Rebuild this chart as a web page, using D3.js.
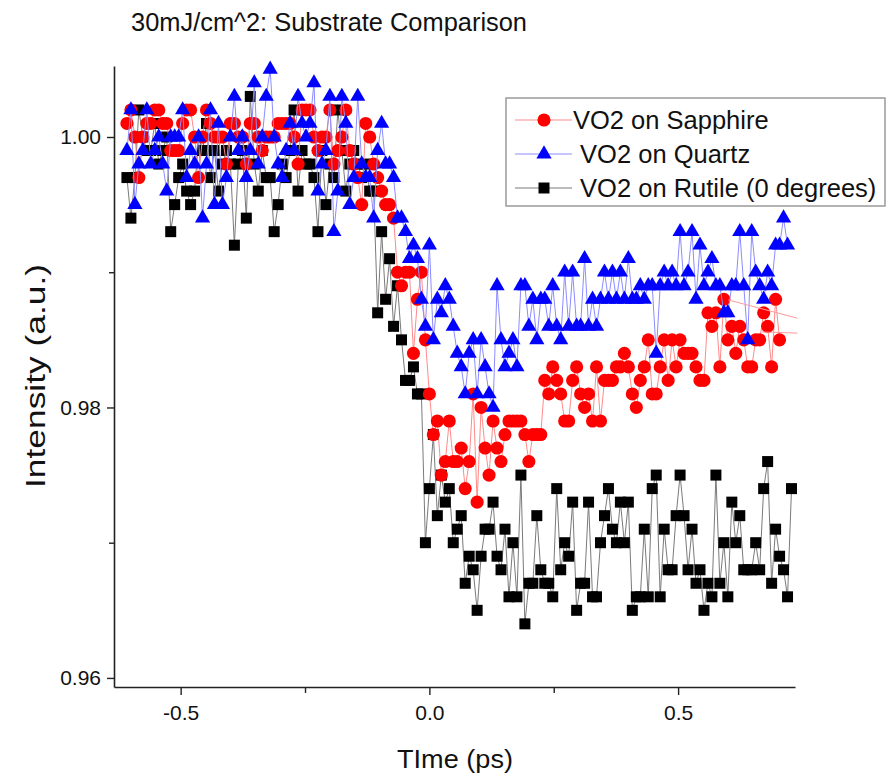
<!DOCTYPE html>
<html>
<head>
<meta charset="utf-8">
<script src="https://cdn.jsdelivr.net/npm/d3@7"></script>
<style>
  body { margin: 0; background: #fff; }
  text { font-family: "Liberation Sans", Arial, sans-serif; fill: #111; }
</style>
</head>
<body>
<svg id="chart" width="892" height="777"></svg>
<script>
// Pump-probe delay (ps), shared by all three scans
const delay = [
  -0.608,-0.600,-0.592,-0.584,-0.576,-0.568,-0.560,-0.552,-0.544,-0.536,
  -0.528,-0.520,-0.512,-0.504,-0.496,-0.488,-0.480,-0.472,-0.464,-0.456,
  -0.448,-0.440,-0.432,-0.424,-0.416,-0.408,-0.400,-0.392,-0.384,-0.376,
  -0.368,-0.360,-0.352,-0.344,-0.336,-0.328,-0.320,-0.312,-0.304,-0.296,
  -0.288,-0.280,-0.272,-0.264,-0.256,-0.248,-0.240,-0.232,-0.224,-0.216,
  -0.208,-0.200,-0.192,-0.184,-0.176,-0.168,-0.160,-0.152,-0.144,-0.136,
  -0.128,-0.120,-0.112,-0.104,-0.096,-0.088,-0.080,-0.072,-0.064,-0.056,
  -0.048,-0.040,-0.032,-0.024,-0.016,-0.008, 0.000, 0.008, 0.016, 0.024,
   0.032, 0.040, 0.048, 0.056, 0.064, 0.072, 0.080, 0.088, 0.096, 0.104,
   0.112, 0.120, 0.128, 0.136, 0.144, 0.152, 0.160, 0.168, 0.176, 0.184,
   0.192, 0.200, 0.208, 0.216, 0.224, 0.232, 0.240, 0.248, 0.256, 0.264,
   0.272, 0.280, 0.288, 0.296, 0.304, 0.312, 0.320, 0.328, 0.336, 0.344,
   0.352, 0.360, 0.368, 0.376, 0.384, 0.392, 0.400, 0.408, 0.416, 0.424,
   0.432, 0.440, 0.448, 0.456, 0.464, 0.472, 0.480, 0.488, 0.496, 0.504,
   0.512, 0.520, 0.528, 0.536, 0.544, 0.552, 0.560, 0.568, 0.576, 0.584,
   0.592, 0.600, 0.608, 0.616, 0.624, 0.632, 0.640, 0.648, 0.656, 0.664,
   0.672, 0.680, 0.688, 0.696, 0.704, 0.712, 0.720, 0.728
];

// Normalised reflected intensity (a.u.)
const sapphire = [
  1.001,1.002,1.000,0.997,1.000,1.001,1.001,1.002,1.002,1.001,
  1.001,0.999,0.999,0.999,1.001,1.002,1.002,1.000,0.997,1.000,
  1.002,1.001,1.000,1.000,1.000,0.998,1.001,1.001,1.000,1.000,
  0.998,1.001,1.001,1.000,0.999,1.000,1.000,1.000,1.001,1.001,
  1.001,1.001,1.000,0.998,1.002,1.002,1.002,1.000,0.999,1.000,
  1.000,1.002,0.998,0.999,1.000,1.002,0.999,0.998,0.997,0.995,
  1.001,1.000,0.998,0.997,0.996,0.995,0.995,0.994,0.990,0.989,
  0.990,0.990,0.984,0.988,0.990,0.985,0.981,0.978,0.979,0.975,
  0.976,0.979,0.976,0.976,0.977,0.974,0.976,0.981,0.973,0.980,
  0.977,0.975,0.979,0.977,0.976,0.978,0.979,0.979,0.979,0.979,
  0.978,0.976,0.978,0.978,0.978,0.982,0.981,0.983,0.982,0.981,
  0.979,0.979,0.982,0.983,0.981,0.980,0.981,0.979,0.983,0.979,
  0.982,0.982,0.982,0.983,0.983,0.984,0.983,0.981,0.980,0.982,
  0.983,0.985,0.981,0.981,0.983,0.985,0.982,0.985,0.983,0.985,
  0.984,0.984,0.984,0.983,0.982,0.982,0.987,0.986,0.987,0.983,
  0.988,0.985,0.986,0.984,0.986,0.985,0.983,0.983,0.985,0.985,
  0.987,0.986,0.983,0.988,0.985
];

const quartz = [
  0.999,1.002,0.995,0.998,0.999,1.002,0.998,0.999,1.000,0.998,
  0.996,1.000,1.000,1.000,1.002,0.997,0.999,0.998,1.000,0.994,
  0.998,1.002,0.995,1.001,0.995,0.997,1.000,1.003,0.999,1.000,
  0.997,0.999,1.004,0.998,1.000,1.003,1.005,1.000,0.998,0.997,
  0.999,1.001,0.999,1.003,1.001,1.000,1.001,1.004,0.996,0.998,
  0.999,1.003,0.993,0.996,1.003,1.001,0.995,0.997,1.003,0.998,
  0.997,0.997,0.994,0.999,1.001,0.998,0.998,0.997,0.994,0.994,
  0.993,0.991,0.992,0.991,0.988,0.986,0.992,0.985,0.988,0.987,
  0.989,0.988,0.986,0.984,0.983,0.981,0.984,0.985,0.981,0.985,
  0.983,0.981,0.980,0.989,0.985,0.983,0.984,0.985,0.983,0.989,
  0.989,0.986,0.988,0.985,0.988,0.988,0.986,0.989,0.986,0.985,
  0.990,0.986,0.990,0.986,0.986,0.991,0.986,0.988,0.986,0.988,
  0.990,0.988,0.990,0.988,0.990,0.988,0.991,0.988,0.988,0.989,
  0.988,0.989,0.989,0.984,0.989,0.990,0.989,0.990,0.989,0.993,
  0.989,0.990,0.993,0.988,0.992,0.989,0.990,0.991,0.989,0.989,
  0.987,0.987,0.989,0.989,0.993,0.989,0.985,0.993,0.990,0.989,
  0.988,0.990,0.989,0.992,0.992,0.994,0.992
];

const rutile = [
  0.997,0.994,0.997,1.002,1.000,0.999,0.999,1.001,0.998,0.999,
  1.000,0.993,0.995,0.997,0.998,0.996,0.995,0.996,1.000,0.999,
  1.001,0.997,0.999,0.996,0.998,0.999,0.998,0.992,0.998,0.999,
  0.994,1.003,0.998,0.996,0.999,0.997,0.997,0.993,0.995,0.998,
  0.997,0.999,1.002,0.996,0.999,0.998,0.998,0.997,0.993,0.999,
  0.995,0.998,0.997,1.002,0.999,0.996,0.998,0.999,0.998,0.997,
  0.998,0.996,0.996,0.987,0.993,0.988,0.991,0.986,0.989,0.985,
  0.982,0.982,0.983,0.981,0.981,0.970,0.974,0.978,0.972,0.975,
  0.973,0.974,0.970,0.971,0.972,0.967,0.969,0.968,0.965,0.969,
  0.971,0.971,0.973,0.969,0.968,0.971,0.966,0.970,0.966,0.975,
  0.964,0.967,0.967,0.972,0.968,0.967,0.967,0.966,0.974,0.968,
  0.970,0.969,0.973,0.965,0.967,0.967,0.973,0.966,0.966,0.970,
  0.972,0.974,0.971,0.970,0.973,0.970,0.973,0.965,0.966,0.966,
  0.971,0.966,0.974,0.975,0.966,0.971,0.968,0.968,0.972,0.975,
  0.972,0.968,0.971,0.967,0.968,0.965,0.967,0.966,0.975,0.967,
  0.970,0.966,0.973,0.970,0.972,0.968,0.968,0.968,0.970,0.968,
  0.974,0.976,0.967,0.971,0.969,0.968,0.966,0.974
];

// Two short recovery fits drawn over the sapphire tail: [delay, intensity] end points
const sapphireFitA = [[0.601, 0.98795], [0.740, 0.98660]];
const sapphireFitB = [[0.669, 0.98558], [0.740, 0.98550]];

const legendLabels = ["VO2 on Sapphire", " VO2 on Quartz", " VO2 on Rutile (0 degrees)"];
const xMajor = [-0.5, 0.0, 0.5];
const xMinor = [-0.25, 0.25];
const yMajor = [0.96, 0.98, 1.00];
const yMinor = [0.97, 0.99];

const svg = d3.select("#chart");

const x = d3.scaleLinear().domain([-0.634, 0.735]).range([114, 795]);
const y = d3.scaleLinear().domain([0.95933, 1.00525]).range([687, 66]);

const series = [
  { key: "rutile",   values: rutile,   line: "#7a7a7a", fill: "#000000", symbol: d3.symbolSquare,   size: 121 },
  { key: "sapphire", values: sapphire, line: "#ff8a8a", fill: "#ff0000", symbol: d3.symbolCircle,   size: 135 },
  { key: "quartz",   values: quartz,   line: "#8c8cff", fill: "#0000ff", symbol: d3.symbolTriangle, size: 100 }
];

const plot = svg.append("g");
const lineGen = d3.line().x(d => x(d[0])).y(d => y(d[1]));

series.forEach(s => {
  const pts = s.values.map((v, i) => [delay[i], v]);
  const g = plot.append("g").attr("class", s.key);
  g.append("path")
    .datum(pts)
    .attr("d", lineGen)
    .attr("fill", "none")
    .attr("stroke", s.line)
    .attr("stroke-width", 1);
  g.selectAll("path.pt")
    .data(pts)
    .join("path")
    .attr("class", "pt")
    .attr("transform", d => `translate(${x(d[0])},${y(d[1])})`)
    .attr("d", d3.symbol().type(s.symbol).size(s.size))
    .attr("fill", s.fill);
});

[sapphireFitA, sapphireFitB].forEach(f => {
  plot.append("path")
    .datum(f)
    .attr("d", lineGen)
    .attr("fill", "none")
    .attr("stroke", "#ff9a9a")
    .attr("stroke-width", 1);
});

// Axes: only left and bottom, ticks pointing outward
const axisColor = "#222";
function styleAxis(g) {
  g.selectAll("path.domain").attr("stroke", axisColor).attr("stroke-width", 1.6);
  g.selectAll(".tick line").attr("stroke", axisColor).attr("stroke-width", 1.4);
  g.selectAll(".tick text").attr("fill", "#111").style("font-size", "21px")
    .style("font-family", '"Liberation Sans", Arial, sans-serif');
}

const yAxis = svg.append("g").attr("transform", "translate(114,0)")
  .call(d3.axisLeft(y).tickValues(yMajor).tickFormat(d3.format(".2f")).tickSize(7).tickSizeOuter(0).tickPadding(6));
styleAxis(yAxis);
const yAxisMinor = svg.append("g").attr("transform", "translate(114,0)")
  .call(d3.axisLeft(y).tickValues(yMinor).tickFormat("").tickSize(5).tickSizeOuter(0));
yAxisMinor.select("path.domain").remove();
styleAxis(yAxisMinor);

const xAxis = svg.append("g").attr("transform", "translate(0,687)")
  .call(d3.axisBottom(x).tickValues(xMajor).tickFormat(d3.format(".1f")).tickSize(8).tickSizeOuter(0).tickPadding(10));
styleAxis(xAxis);
const xAxisMinor = svg.append("g").attr("transform", "translate(0,687)")
  .call(d3.axisBottom(x).tickValues(xMinor).tickFormat("").tickSize(6).tickSizeOuter(0));
xAxisMinor.select("path.domain").remove();
styleAxis(xAxisMinor);
// keep the hyphen-minus used by the plotting program
xAxis.selectAll(".tick text").text(d => d.toFixed(1));

// Titles
svg.append("text").attr("x", 131).attr("y", 31)
  .attr("textLength", 396).attr("lengthAdjust", "spacingAndGlyphs")
  .style("font-size", "25px").text("30mJ/cm^2: Substrate Comparison");
svg.append("text").attr("x", 455).attr("y", 768).attr("text-anchor", "middle")
  .attr("textLength", 116).attr("lengthAdjust", "spacingAndGlyphs")
  .style("font-size", "26px").text("TIme (ps)");
svg.append("text").attr("transform", "translate(45,376) rotate(-90)").attr("text-anchor", "middle")
  .attr("textLength", 224).attr("lengthAdjust", "spacingAndGlyphs")
  .style("font-size", "27px").text("Intensity (a.u.)");

// Legend
const legend = svg.append("g");
legend.append("rect").attr("x", 506).attr("y", 98).attr("width", 379).attr("height", 108)
  .attr("fill", "#fff").attr("stroke", "#9a9a9a").attr("stroke-width", 1.5);
const legendOrder = [series[1], series[2], series[0]];
legendOrder.forEach((s, i) => {
  const cy = 120 + i * 34;
  const row = legend.append("g");
  row.append("line").attr("x1", 515).attr("x2", 572).attr("y1", cy).attr("y2", cy)
    .attr("stroke", s.line).attr("stroke-width", 1.2);
  row.append("path").attr("transform", `translate(544,${cy})`)
    .attr("d", d3.symbol().type(s.symbol).size(s.size)).attr("fill", s.fill);
  row.append("text").attr("x", 573).attr("y", cy + 9).style("font-size", "25.5px")
    .style("white-space", "pre").attr("xml:space", "preserve").text(legendLabels[i]);
});
</script>
</body>
</html>
